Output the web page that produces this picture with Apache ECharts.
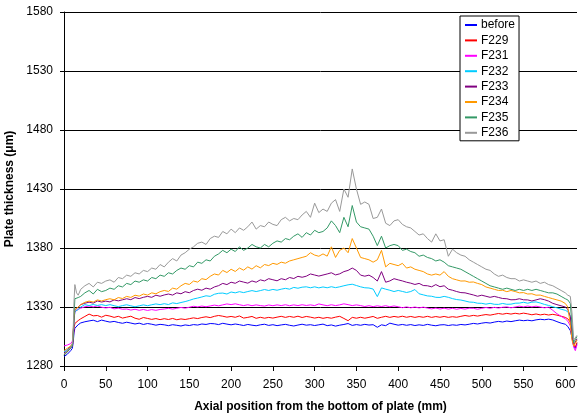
<!DOCTYPE html>
<html><head><meta charset="utf-8">
<script src="https://cdn.jsdelivr.net/npm/echarts@6/dist/echarts.min.js"></script>
<style>html,body{margin:0;padding:0;background:#fff}#c{width:578px;height:419px}</style>
</head><body><div id="c"></div>
<script>
const positions = [0,2,4,6,8,10,11,12,13,15,17,20,
25,30,35,40,45,50,
55,60,65,70,75,80,85,90,95,100,
105,110,115,120,125,130,135,140,145,150,
155,160,165,170,175,180,185,190,195,200,
205,210,215,220,225,230,235,240,245,250,
255,260,265,270,275,280,285,290,295,300,
305,310,315,320,325,330,335,340,345,350,
355,360,365,370,375,380,385,390,395,400,
405,410,415,420,425,430,435,440,445,450,
455,460,465,470,475,480,485,490,495,500,
505,510,515,520,525,530,535,540,545,550,
555,560,565,570,575,580,585,590,595,600,
603,606,608,610,612,614];

const before = [1288,1289,1290,1291.5,1293,1295,1300,1308,1312,1313.5,1315,1316.5,
1317.5,1318.2,1318.8,1317.6,1318.9,1318,
1317.2,1317.8,1316.9,1316.2,1317.1,1316.4,1315.6,1316.3,1315.2,1316,
1315.4,1314.6,1315.3,1314.9,1314.2,1315,1314.5,1313.9,1314.8,1314.3,
1315.1,1314.7,1315.6,1315.2,1316,1315.8,1315.1,1316.2,1315.5,1314.9,
1315.6,1315,1314.3,1315.2,1314.6,1314.1,1314.9,1315.4,1314.4,1315,
1314.2,1314.8,1315.3,1314.5,1313.9,1314.7,1315.4,1314.6,1315,1314.3,
1314.9,1315.5,1314.2,1314.8,1313.8,1314.6,1315.2,1316,1314.4,1315.1,
1314.5,1315.3,1314.7,1315,1312.8,1314.9,1314.2,1316.3,1315.4,1314.6,
1315.2,1314.5,1315.1,1314.3,1314.9,1314.4,1315.3,1314.6,1314.1,1314.8,
1315,1314.3,1314.9,1314.5,1315.2,1314.8,1315.4,1316.1,1315.6,1316.3,
1316.8,1316.4,1317.2,1317.8,1317.3,1318.1,1317.6,1318.3,1318.9,1318.4,
1318.8,1318.3,1319.1,1319.6,1319.2,1319.7,1319,1317.6,1316.3,1315.4,
1313.5,1310,1304,1297,1295,1299];

const F229 = [1290,1291,1292,1293.5,1295,1297,1302,1312,1316,1317,1318.5,1320,
1322,1324,1322.5,1322.8,1321.4,1323,
1322.3,1321.2,1322.1,1320.6,1321.4,1322.2,1320.5,1319.6,1321.1,1320.3,
1319.5,1320.2,1319.3,1320.1,1319.4,1320.3,1319.2,1319.9,1319.4,1320.1,
1320.8,1320.2,1321.1,1321.7,1321,1322.1,1322.8,1322.2,1321.4,1322,
1321.3,1322.4,1320.6,1321.2,1322,1320.4,1321.3,1320.5,1321.2,1320.6,
1321.4,1322.1,1321.2,1322,1321.3,1322.2,1321.1,1322,1321.4,1320.6,
1321.3,1320.4,1321.1,1320.5,1321.4,1322.1,1320.3,1318.4,1321.2,1320.5,
1321.3,1320.5,1321.2,1322,1320.4,1321.3,1322.1,1321.2,1322,1321.4,
1322.2,1321.3,1322,1321.2,1321.9,1321.3,1322.1,1321.2,1321.9,1321.3,
1322,1321.2,1321.8,1321.3,1322.1,1322.8,1322.2,1322.9,1322.3,1323,
1323.6,1323.1,1323.8,1324.5,1323.9,1324.6,1324,1324.7,1324.1,1324.8,
1324.2,1323.4,1324.1,1323.3,1323.9,1323.2,1323.8,1323.1,1322.2,1321.2,
1320,1317,1308,1298,1296,1300];

const F231 = [1297,1297.3,1297.8,1298.2,1299,1301,1308,1320,1326,1327,1328,1329,
1330.2,1330.8,1330.1,1330.9,1329.8,1329.2,
1329.7,1328.4,1329,1328.1,1328.3,1327.4,1328.1,1327.2,1327.9,1327.1,
1327.8,1327.2,1327.9,1328.3,1328.9,1328.2,1328.9,1329.6,1329,1329.8,
1330.6,1330.1,1330.8,1330.2,1330.9,1331.6,1331,1331.8,1332.6,1332,
1332.7,1331.9,1331.2,1331.9,1331.1,1331.8,1331.2,1330.8,1331.7,1331.1,
1331.8,1331.2,1331.9,1331.1,1331.8,1331.2,1331.9,1331.3,1331.8,1331.2,
1332.6,1331.8,1331.1,1331.9,1331.2,1331.8,1332.7,1332,1331.2,1331.8,
1331.2,1330.4,1331.1,1330.3,1331,1330.4,1331.1,1330.2,1330.9,1330.2,
1329.4,1330.1,1329.3,1330,1329.2,1329.9,1329.1,1328.4,1329.1,1328.3,
1329,1328.2,1328.9,1328.1,1328.8,1328.2,1329,1328.9,1328.1,1328.9,
1329.6,1328.9,1329.7,1329.1,1329.8,1330.1,1329.3,1330,1330.7,1330.1,
1330.8,1330.1,1330.7,1330,1329.3,1329.8,1327.2,1324.3,1322.1,1320,
1318,1314,1305,1296,1293,1298];

const F232 = [1292,1293,1294,1295,1296,1298,1306,1318,1326,1327,1328,1330,
1332,1331.2,1332.1,1331.3,1332,1331.2,
1332,1331.1,1330.3,1331.2,1331.9,1331,1330.2,1331,1331.8,1331.1,
1331.9,1332.6,1332,1332.8,1332.1,1333.5,1332.9,1333.8,1334.6,1335.6,
1336.8,1337.6,1338.5,1339.5,1339,1340.8,1341.6,1341.8,1341,1342.7,
1342,1343,1342.2,1343.1,1343.9,1343.1,1343.9,1344.8,1344,1344.9,
1344.2,1345.1,1345.8,1345.1,1346.6,1345.9,1346.8,1347.1,1346.3,1347.1,
1346.2,1347,1346.3,1347.2,1346.4,1347.1,1348,1348.8,1349.3,1348.2,
1347.1,1346.3,1346.1,1345.2,1338.8,1346.2,1345.1,1344.2,1343.1,1344,
1343.2,1342.3,1343.1,1344.8,1341.2,1340.3,1339.4,1339.1,1338.2,1338.1,
1339,1338.2,1337.1,1336.3,1335.9,1335.1,1334.2,1334,1333.2,1333.1,
1332.4,1333.1,1332.3,1332.2,1333,1332.3,1332.4,1333.2,1333.3,1334,
1333.2,1334.1,1334.3,1333.4,1332.2,1331.3,1330.2,1329.3,1328.1,1327.2,
1326,1322,1308,1298,1297,1302];

const F233 = [1291,1292,1293,1295,1296,1298,1308,1320,1327,1328,1330,1332,
1333.2,1334.1,1333.3,1335.1,1334.2,1335,
1334.3,1336,1335.2,1336.1,1337,1336.2,1338,1337.1,1338.2,1339,
1338.2,1340,1339.1,1340.2,1341,1340.1,1342,1341.2,1343,1342.1,
1344,1345.1,1344.2,1346,1345.1,1347,1348.1,1350,1349,1351,
1350.1,1352,1351.1,1350.2,1352.1,1351,1353,1352.1,1354,1353.1,
1352.2,1354,1353.1,1355,1354.1,1356,1355.2,1356.1,1358,1357.1,
1356.2,1357.1,1358,1359,1357.2,1358.1,1360,1361,1363,1361,
1357,1356.1,1357,1355,1352,1360,1351,1352.1,1354,1353,
1352.1,1351,1350.2,1349.1,1350,1348.2,1348,1347.1,1349,1347.2,
1348,1345.1,1344.2,1343.1,1342.2,1342,1341.1,1340.2,1339.1,1340,
1339.1,1338.2,1339,1338.1,1337.2,1337,1336.1,1336.2,1337,1336.1,
1336,1335.1,1336,1337,1336.2,1335,1333.1,1332,1331,1330,
1328,1322,1305,1298,1299,1303];

const F234 = [1293,1294,1295,1296,1297,1299,1310,1322,1328,1327,1330,1332,
1334,1335,1334.2,1336,1335.1,1336.2,
1337,1336.1,1338,1337.2,1339,1338.1,1340,1339.2,1341,1340.1,
1342,1341.2,1343,1344,1343.2,1346,1345.1,1348,1350,1349.1,
1352,1351.1,1354,1353.2,1356,1358,1357.1,1361,1359.2,1362,
1360.1,1363,1361.2,1364,1362.1,1365,1363.2,1366,1365.1,1367,
1366.1,1368,1367.1,1369,1370,1371,1372,1373,1376,1374,
1373,1375,1373.1,1381,1372,1378,1380,1376,1388,1380,
1372,1371,1370,1368,1370,1378,1364,1367,1366,1365,
1367,1363,1364,1362,1361,1360,1358,1357,1358,1357,
1360,1356,1354,1353,1352,1352.1,1351,1351.2,1350,1349,
1347,1346,1345,1344,1344.2,1343,1344,1343.1,1342,1342.2,
1341,1341.2,1340,1340.1,1339,1338,1337,1336,1335,1333,
1330,1315,1302,1297,1298,1302];

const F235 = [1289,1290,1292,1293,1295,1297,1305,1322,1337,1336,1338,1339,
1342,1344,1341,1345,1343,1344,
1346,1345,1348,1347,1350,1349,1352,1351,1353,1352,
1355,1354,1357,1356,1359,1358,1361,1363,1362,1365,
1364,1368,1367,1370,1369,1373,1375,1378,1376,1379,
1377,1381,1378,1380,1383,1381,1380,1383,1381,1384,
1386,1385,1388,1387,1390,1392,1389,1393,1391,1395,
1393,1394,1397,1403,1399,1393,1406,1398,1416,1402,
1398,1397,1396,1390,1382,1390,1380,1382,1383,1382,
1378,1379,1377,1376,1373,1374,1372,1371,1369,1370,
1368,1365,1364,1363,1362,1360,1358,1356,1354,1352,
1350,1348,1347,1346,1345,1346,1345,1344,1345,1344,
1345,1344,1345,1344,1343,1342,1342,1341,1339,1337,
1336,1333,1315,1300,1301,1305];

const F236 = [1290,1291,1293,1294,1296,1299,1310,1335,1349,1342,1340,1345,
1348,1350,1347,1351,1350,1352,
1353,1351,1355,1354,1357,1356,1359,1358,1361,1360,
1363,1362,1366,1364,1368,1371,1369,1374,1376,1379,
1381,1384,1385,1383,1388,1390,1389,1394,1392,1396,
1393,1397,1395,1398,1402,1396,1399,1398,1402,1400,
1399,1404,1406,1403,1405,1404,1408,1411,1406,1418,
1410,1413,1411,1418,1421,1411,1430,1423,1447,1430,
1417,1419,1417,1405,1406,1413,1401,1399,1403,1404,
1400,1398,1397,1394,1391,1392,1388,1385,1392,1386,
1387,1373,1379,1376,1374,1373,1370,1368,1366,1364,
1362,1361,1358,1356,1357,1355,1354,1354,1352,1353,
1352,1351,1352,1350,1351,1349,1348,1346,1344,1342,
1340,1339,1325,1302,1303,1306];

const seriesNames = ['before','F229','F231','F232','F233','F234','F235','F236'];
const seriesValues = [before,F229,F231,F232,F233,F234,F235,F236];
const seriesColors = ['#0000FF','#FF0000','#FF00FF','#00CCFF','#800080','#FF9900','#339966','#999999'];
const yTicks = [1280,1330,1380,1430,1480,1530,1580];
const xTicks = [0,50,100,150,200,250,300,350,400,450,500,550,600];

const FONT = 'Arial, "Liberation Sans", sans-serif';
const labelStyle = {fontFamily: FONT, fontSize: 12, color: '#000'};
const chart = echarts.init(document.getElementById('c'));
chart.setOption({
  animation: false,
  backgroundColor: '#fff',
  grid: {left: 64, right: 1, top: 12, bottom: 53, containLabel: false, outerBoundsMode: 'none'},
  legend: {
    orient: 'vertical', left: 460, top: 16,
    data: seriesNames,
    icon: 'rect', itemWidth: 12, itemHeight: 2, itemGap: 1.4,
    padding: [2, 4, 1, 5],
    backgroundColor: '#fff', borderColor: '#000', borderWidth: 1, borderRadius: 0,
    textStyle: Object.assign({lineHeight: 14, padding: [0,0,0,-1]}, labelStyle)
  },
  xAxis: {
    type: 'value', min: 0, max: 614, interval: 50,
    name: 'Axial position from the bottom of plate (mm)',
    nameLocation: 'middle', nameGap: 35,
    nameTextStyle: {fontFamily: FONT, fontSize: 12, fontWeight: 'bold', color: '#000'},
    axisLine: {show: true, onZero: false, lineStyle: {color: '#000', width: 1}},
    axisTick: {show: true, length: 5, lineStyle: {color: '#000'}},
    axisLabel: Object.assign({margin: 13, showMaxLabel: false,
      formatter: function (v) {
        const r = Math.round(Number(v));
        return xTicks.indexOf(r) >= 0 ? String(r) : '';
      }}, labelStyle),
    splitLine: {show: false}
  },
  yAxis: [{
    type: 'value', min: 1280, max: 1580, interval: 50,
    name: 'Plate thickness (\u03bcm)',
    nameLocation: 'middle', nameGap: 42,
    nameTextStyle: {fontFamily: FONT, fontSize: 12, fontWeight: 'bold', color: '#000'},
    axisLine: {show: true, lineStyle: {color: '#000', width: 1}},
    axisTick: {show: true, length: 4, lineStyle: {color: '#000'}},
    axisLabel: Object.assign({margin: 11,
      formatter: v => (yTicks.indexOf(v) >= 0 ? String(v) : '')}, labelStyle),
    splitLine: {show: true, lineStyle: {color: '#000', width: 1}}
  }, {
    type: 'value', min: 1280, max: 1580, interval: 50, position: 'left',
    axisLine: {show: false},
    axisTick: {show: true, inside: true, length: 4, lineStyle: {color: '#000'}},
    axisLabel: {show: false},
    splitLine: {show: false}
  }],
  series: seriesNames.map((n, i) => ({
    name: n, type: 'line', showSymbol: false, symbol: 'none',
    yAxisIndex: 0,
    data: positions.map((x, j) => [x, seriesValues[i][j]]),
    lineStyle: {color: seriesColors[i], width: 1},
    itemStyle: {color: seriesColors[i]},
    z: 2 + i
  }))
});
</script></body></html>
